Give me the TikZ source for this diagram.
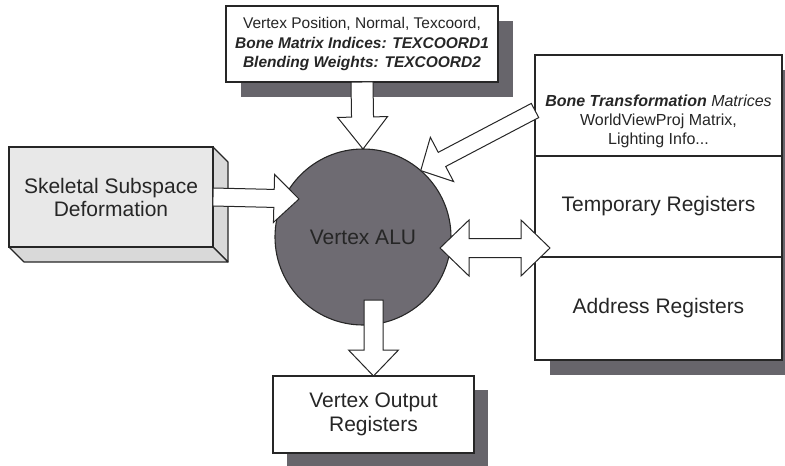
\documentclass[tikz,border=0pt]{standalone}
\usepackage{fontspec}
\setmainfont{Liberation Sans}
\usetikzlibrary{positioning, calc, backgrounds}
\definecolor{aluGray}{HTML}{6E6B72}
\definecolor{shadeGray}{HTML}{67656B}
\definecolor{faceGray}{HTML}{E8E8E8}
\definecolor{sideGray}{HTML}{D9D9D9}
\definecolor{inkGray}{HTML}{262626}
\tikzset{
  box/.style    = {draw=inkGray, line width=1.1pt, fill=white, align=center, inner sep=0pt,
                   outer sep=0pt, text=inkGray, font=\fontsize{21}{23}\selectfont},
  inbx/.style   = {box, minimum width=272pt, minimum height=76pt, font=\fontsize{15.5}{19.5}\selectfont},
  reg/.style    = {box, minimum width=247pt, minimum height=101pt},
  skelbx/.style = {box, fill=faceGray, minimum width=204pt, minimum height=100pt},
  outbx/.style  = {box, minimum width=201pt, minimum height=77pt, font=\fontsize{21}{24}\selectfont},
  alunode/.style= {circle, draw=inkGray, line width=1.1pt, fill=aluGray, minimum size=176pt,
                   inner sep=0pt, outer sep=0pt, text=black!85, font=\fontsize{21}{23}\selectfont},
  txt/.style    = {align=center, inner sep=0pt, text=inkGray, font=\fontsize{16}{19}\selectfont},
  shade/.style  = {fill=shadeGray},
  side/.style   = {fill=sideGray, draw=inkGray, line width=1.1pt, line join=round},
  barrow/.style = {fill=white, draw=inkGray, line width=1pt, line join=miter},
}
% block arrow: tail, tip, shaft half width, head half width, head length
\newcommand{\fatarr}[5]{%
  \draw[barrow] ($(#1)!#3!90:(#2)$) -- ($(#2)!#5!(#1)!#3!90:(#2)$)
    -- ($(#2)!#5!(#1)!#4!90:(#2)$) -- (#2) -- ($(#2)!#5!(#1)!#4!-90:(#2)$)
    -- ($(#2)!#5!(#1)!#3!-90:(#2)$) -- ($(#1)!#3!-90:(#2)$) -- cycle;}
% two-headed block arrow, same arguments
\newcommand{\dblarr}[5]{%
  \draw[barrow] (#1) -- ($(#1)!#5!(#2)!#4!90:(#2)$) -- ($(#1)!#5!(#2)!#3!90:(#2)$)
    -- ($(#2)!#5!(#1)!#3!90:(#2)$) -- ($(#2)!#5!(#1)!#4!90:(#2)$) -- (#2)
    -- ($(#2)!#5!(#1)!#4!-90:(#2)$) -- ($(#2)!#5!(#1)!#3!-90:(#2)$)
    -- ($(#1)!#5!(#2)!#3!-90:(#2)$) -- ($(#1)!#5!(#2)!#4!-90:(#2)$) -- cycle;}

\begin{document}
\begin{tikzpicture}[x=1pt, y=-1pt]
\useasboundingbox (0,0) rectangle (785,466);
% --- blocks ---------------------------------------------------------------
\node[inbx] (inbox) at (362,44)
  {Vertex Position, Normal, Texcoord,\\
   \textbf{\textit{Bone Matrix Indices: TEXCOORD1}}\\
   \textbf{\textit{Blending Weights: TEXCOORD2}}};
\node[skelbx] (skel) at (111,197) {Skeletal Subspace\\Deformation};
\node[alunode] (alu) at (363,237) {Vertex ALU};
\node[outbx] (outbox) at (373.5,414.5) {Vertex Output\\Registers};

% register file, three stacked sections
\node[reg] (consts) at (658.5,105.5) {};
\node[reg, below=0pt of consts] (temps) {Temporary Registers};
\node[reg, below=0pt of temps, minimum height=103pt] (addrs) {Address Registers};
\node[txt] (consts-txt) at ($(consts)+(0,16)$)
  {\textbf{\textit{Bone Transformation}} \textit{Matrices}\\
   WorldViewProj Matrix,\\Lighting Info...};

% --- shadows and box sides ------------------------------------------------
\begin{scope}[on background layer]
  \fill[shade] ($(inbox.north west)+(15,15)$) rectangle ($(inbox.south east)+(15,15)$);
  \fill[shade] ($(consts.north west)+(15,15)$) rectangle ($(addrs.south east)+(15,15)$);
  \fill[shade] ($(outbox.north west)+(14,14)$) rectangle ($(outbox.south east)+(14,14)$);
  \draw[side] (skel.north east) -- ++(15,15) -- ($(skel.south east)+(15,15)$)
    -- (skel.south east) -- cycle;
  \draw[side] (skel.south west) -- (skel.south east) -- ++(15,15)
    -- ($(skel.south west)+(15,15)$) -- cycle;
\end{scope}

% --- arrows ---------------------------------------------------------------
\coordinate (alu-l)   at ($(alu)+(-64,-38)$);
\coordinate (alu-r)   at ($(alu)+(77,11)$);
\coordinate (alu-b)   at ($(alu)+(10.5,63)$);
\coordinate (regs-in) at ($(consts.west)+(0,5)$);
\coordinate (regs-io) at ($(temps.south west)+(15,-9)$);

\fatarr{inbox.south}{alu.north}{11pt}{25pt}{32pt}
\fatarr{skel.east}{alu-l}{9pt}{24pt}{25pt}
\fatarr{regs-in}{alu.49}{8pt}{25pt}{24pt}
\dblarr{alu-r}{regs-io}{9.5pt}{28pt}{29pt}
\fatarr{alu-b}{outbox.north}{9.5pt}{25pt}{26pt}
\end{tikzpicture}
\end{document}
